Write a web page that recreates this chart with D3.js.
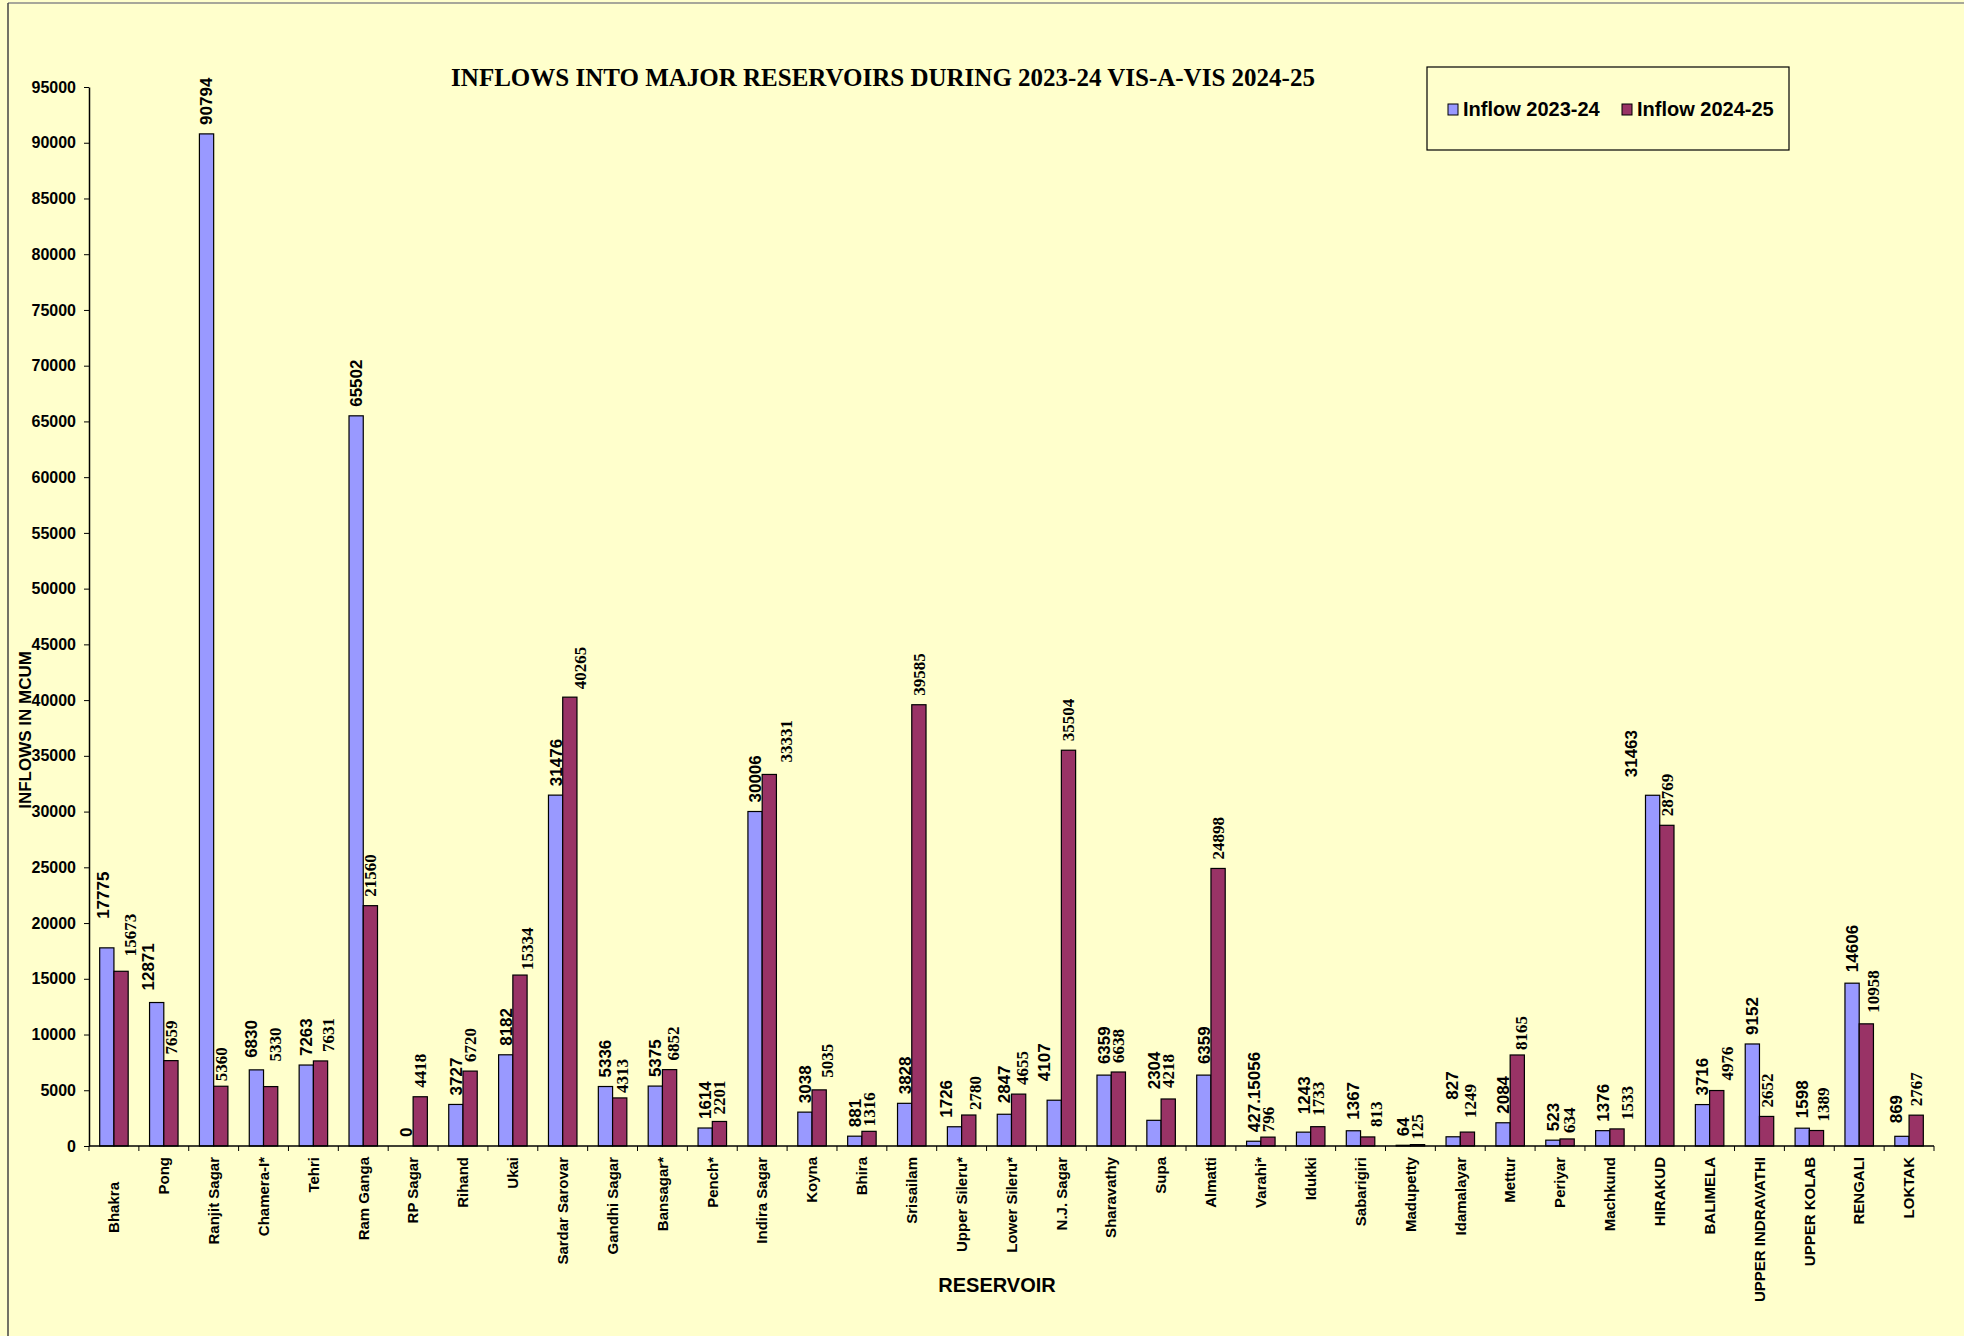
<!DOCTYPE html>
<html>
<head>
<meta charset="utf-8">
<script src="https://cdn.jsdelivr.net/npm/d3@7"></script>
<style>
  body { margin: 0; background: #FFFFCC; }
  svg { display: block; }
</style>
</head>
<body>
<div id="chart"></div>
<script>
//Reservoir names (Bhakra carries padding spaces as in the source sheet)
const categories = ["Bhakra      ", "Pong", "Ranjit Sagar", "Chamera-I*", "Tehri", "Ram Ganga", "RP Sagar",
    "Rihand", "Ukai", "Sardar Sarovar", "Gandhi Sagar", "Bansagar*", "Pench*", "Indira Sagar", "Koyna",
    "Bhira", "Srisailam", "Upper Sileru*", "Lower Sileru*", "N.J. Sagar", "Sharavathy", "Supa", "Almatti",
    "Varahi*", "Idukki", "Sabarigiri", "Madupetty", "Idamalayar", "Mettur", "Periyar", "Machkund",
    "HIRAKUD", "BALIMELA", "UPPER INDRAVATHI", "UPPER KOLAB", "RENGALI", "LOKTAK"];

//Inflows in MCUM
const inflow2324 = [17775, 12871, 90794, 6830, 7263, 65502, 0, 3727, 8182, 31476, 5336, 5375, 1614, 30006,
    3038, 881, 3828, 1726, 2847, 4107, 6359, 2304, 6359, 427.15056, 1243, 1367, 64, 827, 2084, 523, 1376,
    31463, 3716, 9152, 1598, 14606, 869];
const inflow2425 = [15673, 7659, 5360, 5330, 7631, 21560, 4418, 6720, 15334, 40265, 4313, 6852, 2201, 33331,
    5035, 1316, 39585, 2780, 4655, 35504, 6638, 4218, 24898, 796, 1733, 813, 125, 1249, 8165, 634, 1533,
    28769, 4976, 2652, 1389, 10958, 2767];

const seriesNames = ["Inflow 2023-24", "Inflow 2024-25"];
const seriesColors = ["#9999FF", "#993366"];
const yTicks = [0, 5000, 10000, 15000, 20000, 25000, 30000, 35000, 40000, 45000, 50000,
    55000, 60000, 65000, 70000, 75000, 80000, 85000, 90000, 95000];

//Labels that were dragged by hand in the original: [category index, series, dx, dy]
const labelNudges = [
    [0, 0, -4, -20], [1, 0, -9, -3], [3, 0, -5, -3], [17, 0, -8, 0], [18, 0, 0, -2], [19, 0, -10, -10],
    [20, 0, 0, -2], [21, 0, 0, -22], [22, 0, 0, -2], [24, 0, 0, -9], [25, 0, 0, -2], [27, 0, -1, -28],
    [31, 0, -22, -9], [34, 0, 0, -1], [35, 0, 0, -2], [36, 0, -6, -4],
    [0, 1, 9, -6], [1, 1, 0, 3], [2, 1, 0, 4], [3, 1, 4, -16], [4, 1, 8, 0], [8, 1, 7, 4], [9, 1, 10, 1],
    [10, 1, 2, 4], [11, 1, 3, 0], [12, 1, 0, 2], [13, 1, 17, -3], [14, 1, 8, -3], [15, 1, 0, 4],
    [17, 1, 6, 4], [18, 1, 3, 0], [21, 1, 0, -2], [23, 1, 0, 4], [24, 1, 0, -2], [25, 1, 8, -1],
    [26, 1, 0, 4], [27, 1, 3, -5], [28, 1, 4, 4], [29, 1, 2, 3], [30, 1, 10, 0], [32, 1, 10, -1],
    [34, 1, 7, 0], [35, 1, 7, -2]
];

//Dim and plot area
const width = 1964;
const height = 1336;
const plotLeft = 89, plotRight = 1934, plotTop = 87, plotBottom = 1146;
const labelGap = 9;
const sans = "'Liberation Sans', Arial, sans-serif";
const serif = "'Liberation Serif', 'Times New Roman', serif";

const nudgeOf = (i, j) => {
    const n = labelNudges.find(e => e[0] === i && e[1] === j);
    return n ? [n[2], n[3]] : [0, 0];
};

const svg = d3.select("#chart")
    .append("svg")
    .attr("width", width)
    .attr("height", height);

svg.append("rect")
    .attr("width", width)
    .attr("height", height)
    .attr("fill", "#FFFFCC");

//Outer border
svg.append("line").attr("x1", 8).attr("x2", width).attr("y1", 3).attr("y2", 3)
    .attr("stroke", "#8a8a8a").attr("stroke-width", 1.5);
svg.append("line").attr("x1", 8).attr("x2", 8).attr("y1", 3).attr("y2", height)
    .attr("stroke", "#444").attr("stroke-width", 1.5);

//Scaling
const xScale = d3.scaleBand()
    .domain(categories)
    .range([plotLeft, plotRight]);

const xSub = d3.scaleBand()
    .domain([0, 1])
    .range([0, xScale.bandwidth()])
    .paddingOuter(0.75);

const yScale = d3.scaleLinear()
    .domain([0, 95000])
    .range([plotBottom, plotTop]);

const rows = categories.map((c, i) => ({ name: c, index: i, values: [inflow2324[i], inflow2425[i]] }));

//Bars
const groups = svg.selectAll("g.grp")
    .data(rows)
    .enter()
    .append("g")
    .attr("class", "grp")
    .attr("transform", d => `translate(${xScale(d.name)},0)`);

groups.selectAll("rect")
    .data(d => d.values)
    .enter()
    .append("rect")
    .attr("x", (v, j) => xSub(j))
    .attr("y", v => yScale(v))
    .attr("width", xSub.bandwidth())
    .attr("height", v => plotBottom - yScale(v))
    .attr("fill", (v, j) => seriesColors[j])
    .attr("stroke", "#000")
    .attr("stroke-width", 1.2);

//Value labels (2023-24 sans, 2024-25 serif)
groups.selectAll("text")
    .data(d => d.values.map((v, j) => ({ v: v, j: j, i: d.index })))
    .enter()
    .append("text")
    .attr("transform", d => {
        const [dx, dy] = nudgeOf(d.i, d.j);
        const cx = xSub(d.j) + xSub.bandwidth() / 2 + dx;
        const cy = yScale(d.v) - labelGap + dy;
        return `translate(${cx},${cy}) rotate(-90)`;
    })
    .attr("dy", "0.35em")
    .attr("text-anchor", "start")
    .attr("font-family", d => d.j === 0 ? sans : serif)
    .attr("font-weight", "bold")
    .attr("font-size", 17)
    .attr("fill", "#000")
    .text(d => String(d.v));

//Y axis
const yAxis = svg.append("g")
    .attr("transform", `translate(${plotLeft},0)`)
    .call(d3.axisLeft(yScale).tickValues(yTicks).tickSize(5).tickSizeOuter(0).tickPadding(8).tickFormat(d3.format("d")));
yAxis.select(".domain").attr("stroke", "#000").attr("stroke-width", 1.5);
yAxis.selectAll(".tick line").attr("stroke", "#000");
yAxis.selectAll(".tick text")
    .attr("font-family", sans)
    .attr("font-weight", "bold")
    .attr("font-size", 16)
    .attr("fill", "#000");

//X axis line and boundary ticks
svg.append("line")
    .attr("x1", plotLeft).attr("x2", plotRight)
    .attr("y1", plotBottom).attr("y2", plotBottom)
    .attr("stroke", "#000").attr("stroke-width", 1.5);

svg.selectAll("line.xtick")
    .data(categories.concat(["__end"]))
    .enter()
    .append("line")
    .attr("class", "xtick")
    .attr("x1", (d, i) => plotLeft + i * xScale.step())
    .attr("x2", (d, i) => plotLeft + i * xScale.step())
    .attr("y1", plotBottom)
    .attr("y2", plotBottom + 5)
    .attr("stroke", "#000");

//Category labels
svg.selectAll("text.cat")
    .data(categories)
    .enter()
    .append("text")
    .attr("class", "cat")
    .attr("xml:space", "preserve")
    .attr("transform", d => `translate(${xScale(d) + xScale.bandwidth() / 2},${plotBottom + 11}) rotate(-90)`)
    .attr("dy", "0.35em")
    .attr("text-anchor", "end")
    .style("white-space", "pre")
    .attr("font-family", sans)
    .attr("font-weight", "bold")
    .attr("font-size", 15)
    .attr("fill", "#000")
    .text(d => d);

//Axis titles
svg.append("text")
    .attr("x", 997)
    .attr("y", 1292)
    .attr("text-anchor", "middle")
    .attr("font-family", sans)
    .attr("font-weight", "bold")
    .attr("font-size", 20)
    .text("RESERVOIR");

svg.append("text")
    .attr("transform", "translate(31,730) rotate(-90)")
    .attr("text-anchor", "middle")
    .attr("font-family", sans)
    .attr("font-weight", "bold")
    .attr("font-size", 17)
    .text("INFLOWS IN MCUM");

//Title
svg.append("text")
    .attr("x", 883)
    .attr("y", 86)
    .attr("text-anchor", "middle")
    .attr("font-family", serif)
    .attr("font-weight", "bold")
    .attr("font-size", 25)
    .text("INFLOWS INTO MAJOR RESERVOIRS DURING 2023-24 VIS-A-VIS 2024-25");

//Legend
const legend = svg.append("g");
legend.append("rect")
    .attr("x", 1427).attr("y", 67)
    .attr("width", 362).attr("height", 83)
    .attr("fill", "#FFFFCC")
    .attr("stroke", "#000")
    .attr("stroke-width", 1.2);

const legendX = [1448, 1622];
legend.selectAll("rect.sw")
    .data(seriesNames)
    .enter()
    .append("rect")
    .attr("class", "sw")
    .attr("x", (d, i) => legendX[i])
    .attr("y", 104)
    .attr("width", 10)
    .attr("height", 11)
    .attr("fill", (d, i) => seriesColors[i])
    .attr("stroke", "#000");

legend.selectAll("text")
    .data(seriesNames)
    .enter()
    .append("text")
    .attr("x", (d, i) => legendX[i] + 15)
    .attr("y", 116)
    .attr("font-family", sans)
    .attr("font-weight", "bold")
    .attr("font-size", 20)
    .text(d => d);
</script>
</body>
</html>
